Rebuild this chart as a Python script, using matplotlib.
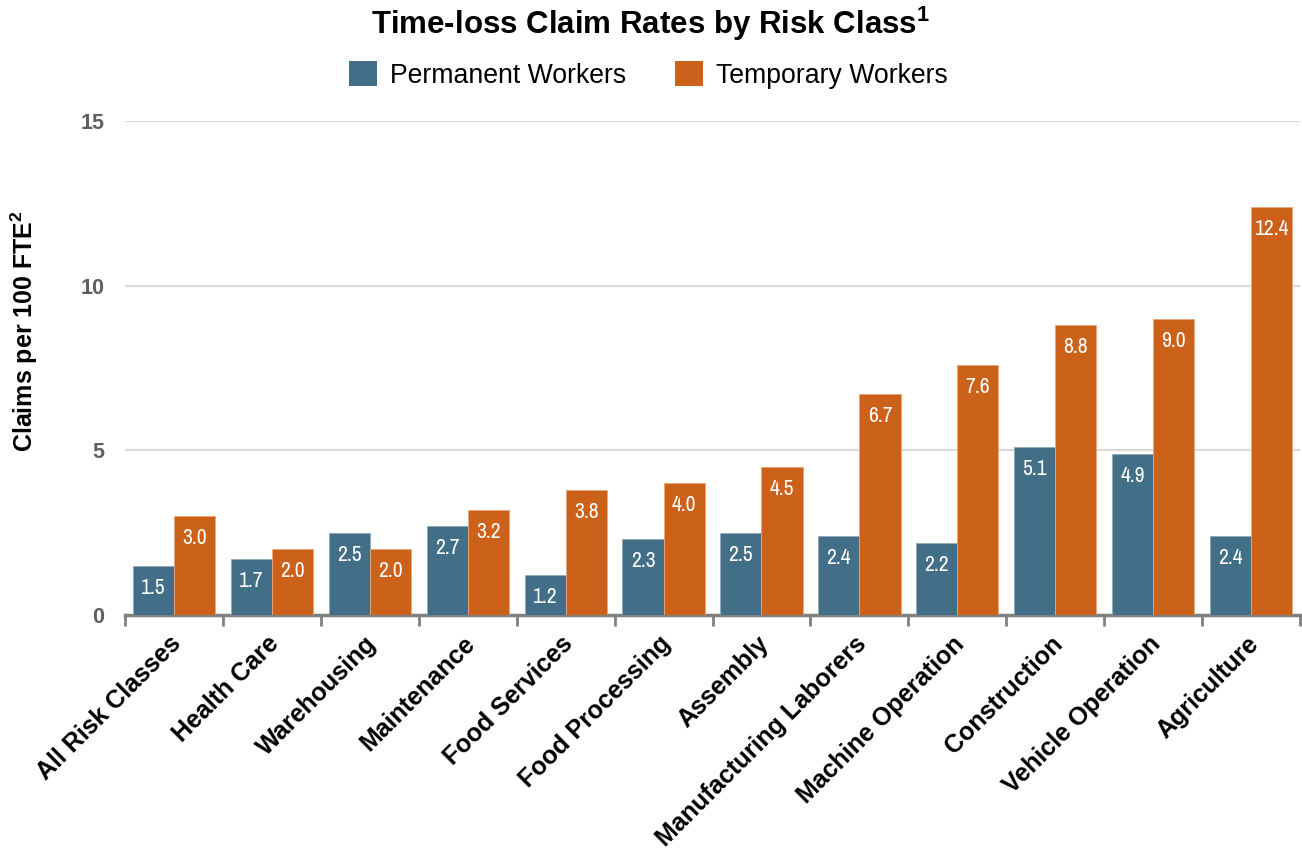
import matplotlib
matplotlib.use("Agg")
import matplotlib.pyplot as plt
from matplotlib import font_manager as fm
from matplotlib.patches import Patch
from matplotlib.transforms import ScaledTranslation

categories = ["All Risk Classes", "Health Care", "Warehousing", "Maintenance",
              "Food Services", "Food Processing", "Assembly", "Manufacturing Laborers",
              "Machine Operation", "Construction", "Vehicle Operation", "Agriculture"]
permanent = [1.5, 1.7, 2.5, 2.7, 1.2, 2.3, 2.5, 2.4, 2.2, 5.1, 4.9, 2.4]
temporary = [3.0, 2.0, 2.0, 3.2, 3.8, 4.0, 4.5, 6.7, 7.6, 8.8, 9.0, 12.4]
series_names = ["Permanent Workers", "Temporary Workers"]
yticks = [0, 5, 10, 15]

BLUE = "#426F87"
ORANGE = "#CC621A"

names = sorted({f.name for f in fm.fontManager.ttflist})
base = "Liberation Sans" if "Liberation Sans" in names else "DejaVu Sans"
narrow_candidates = [n_ for n_ in names if ("Narrow" in n_ or "Condensed" in n_)]
narrow = narrow_candidates[0] if narrow_candidates else base
plt.rcParams["font.family"] = [base, "DejaVu Sans"]

fig = plt.figure(figsize=(13.02, 8.5), dpi=100)
ax = fig.add_axes([0.096, 0.2765, 0.9025, 0.5811])

n = len(categories)
x = list(range(n))
w = 0.42
b1 = ax.bar([i - w / 2 for i in x], permanent, width=w, color=BLUE,
            edgecolor="#8fa9b8", linewidth=0.6, zorder=3)
b2 = ax.bar([i + w / 2 for i in x], temporary, width=w, color=ORANGE,
            edgecolor="#e9a77a", linewidth=0.6, zorder=3)

val_size = 15.5 if narrow_candidates else 14
for bars, vals in ((b1, permanent), (b2, temporary)):
    for r, v in zip(bars, vals):
        ax.annotate(f"{v:.1f}", (r.get_x() + r.get_width() / 2, v),
                    xytext=(0, -22), textcoords="offset pixels",
                    ha="center", va="center", color="white",
                    fontsize=val_size, family=[narrow, "DejaVu Sans"], zorder=4)

ax.set_xlim(-0.5, n - 0.5)
ax.set_ylim(0, 15)
ax.set_yticks(yticks)
ax.set_yticklabels([str(t) for t in yticks], fontsize=15.5, fontweight="bold", color="#5f5f5f")
ax.tick_params(axis="y", length=0, pad=15)
ax.yaxis.grid(True, color="#d9d9d9", linewidth=1.5, zorder=0)
ax.set_axisbelow(True)

ax.set_xticks([i - 0.5 for i in range(n + 1)])
ax.set_xticklabels([""] * (n + 1))
ax.tick_params(axis="x", which="major", length=8, width=2, color="#808080")
ax.set_xticks(x, minor=True)
ax.set_xticklabels(categories, minor=True, rotation=45, ha="right",
                   rotation_mode="anchor", fontsize=18, fontweight="bold")
ax.tick_params(axis="x", which="minor", length=0, pad=12)
shift = ScaledTranslation(-5 / 100, 0, fig.dpi_scale_trans)
for lab in ax.get_xticklabels(minor=True):
    lab.set_transform(lab.get_transform() + shift)

for s in ("top", "right", "left"):
    ax.spines[s].set_visible(False)
ax.spines["bottom"].set_color("#808080")
ax.spines["bottom"].set_linewidth(2.5)

ax.set_ylabel("Claims per 100 FTE$^{\\mathregular{2}}$", fontsize=18, fontweight="bold")
ax.yaxis.set_label_coords(-0.0725, 0.575)

fig.text(0.5, 0.972, "Time-loss Claim Rates by Risk Class$^{\\mathregular{1}}$",
         ha="center", va="center", fontsize=22.5, fontweight="bold")

handles = [Patch(facecolor=BLUE), Patch(facecolor=ORANGE)]
fig.legend(handles, series_names, loc="center", bbox_to_anchor=(0.498, 0.912),
           ncol=2, frameon=False, fontsize=19.2, handlelength=1.05, handleheight=1.05,
           columnspacing=1.8, handletextpad=0.5)

fig.savefig("out.png", dpi=100)
